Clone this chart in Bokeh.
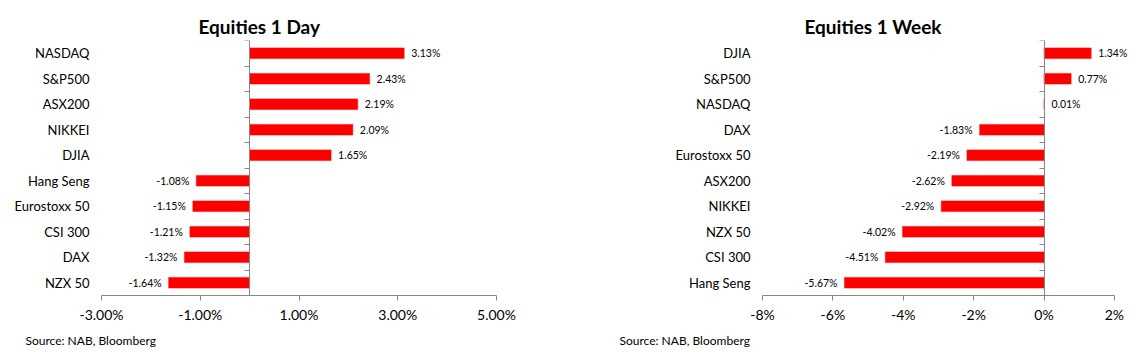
from bokeh.plotting import figure
from bokeh.layouts import row
from bokeh.models import (Range1d, FixedTicker, LinearAxis, PrintfTickFormatter,
                          Title, ColumnDataSource, LabelSet, CustomJSTickFormatter)
from bokeh.embed import file_html
from bokeh.resources import INLINE
from bokeh.core.properties import value

# ---------------- data ----------------
day_names = ["NASDAQ", "S&P500", "ASX200", "NIKKEI", "DJIA",
             "Hang Seng", "Eurostoxx 50", "CSI 300", "DAX", "NZX 50"]
day_values = [3.13, 2.43, 2.19, 2.09, 1.65, -1.08, -1.15, -1.21, -1.32, -1.64]
day_ticks = [-3, -1, 1, 3, 5]

week_names = ["DJIA", "S&P500", "NASDAQ", "DAX", "Eurostoxx 50",
              "ASX200", "NIKKEI", "NZX 50", "CSI 300", "Hang Seng"]
week_values = [1.34, 0.77, 0.01, -1.83, -2.19, -2.62, -2.92, -4.02, -4.51, -5.67]
week_ticks = [-8, -6, -4, -2, 0, 2]

source_text = "Source: NAB, Bloomberg"

FONT = "Lato"
RED = "#FF0000"
GREY = "#868686"


def make_panel(title, names, values, ticks, fmt, x_extra, width,
               b_left, b_right, title_offset, source_offset):
    n = len(names)
    ys = [n - 0.5 - i for i in range(n)]
    labels = [f"{v:.2f}%" for v in values]

    pos = ColumnDataSource(dict(
        y=[y for y, v in zip(ys, values) if v >= 0],
        x=[v for v in values if v >= 0],
        t=[l for l, v in zip(labels, values) if v >= 0]))
    neg = ColumnDataSource(dict(
        y=[y for y, v in zip(ys, values) if v < 0],
        x=[v for v in values if v < 0],
        t=[l for l, v in zip(labels, values) if v < 0]))

    p = figure(width=width, height=352, title=title,
               x_range=Range1d(ticks[0], ticks[-1] + x_extra),
               y_range=Range1d(0, n),
               output_backend="svg", toolbar_location=None,
               min_border_left=b_left, min_border_right=b_right,
               min_border_top=40, min_border_bottom=56)
    p.outline_line_color = None
    p.xgrid.visible = False
    p.ygrid.visible = False
    p.background_fill_color = "white"
    p.border_fill_color = "white"

    p.title.text_font = FONT
    p.title.text_font_size = "19px"
    p.title.text_font_style = "bold"
    p.title.text_color = "black"
    p.title.align = "left"
    p.title.offset = title_offset
    p.title.standoff = 6

    p.hbar(y=ys, left=0, right=values, height=0.42, fill_color=RED,
           line_color=RED, line_width=0.5)

    for src, off, align in ((pos, 7, "left"), (neg, -7, "right")):
        p.add_layout(LabelSet(x="x", y="y", text="t", source=src,
                              x_offset=off, text_align=align,
                              text_baseline="middle",
                              text_font=value(FONT),
                              text_font_size=value("10.5px"),
                              text_color="black"))

    # category labels (left)
    ya = p.yaxis[0]
    ya.ticker = FixedTicker(ticks=ys)
    ya.major_label_overrides = {y: nm for y, nm in zip(ys, names)}
    ya.axis_line_color = None
    ya.major_tick_line_color = None
    ya.major_tick_out = 0
    ya.major_tick_in = 0
    ya.minor_tick_line_color = None
    ya.minor_tick_out = 0
    ya.major_label_standoff = 12
    ya.major_label_text_font = FONT
    ya.major_label_text_font_size = "13px"
    ya.major_label_text_color = "black"

    # zero axis with ticks at category boundaries
    za = LinearAxis(fixed_location=0,
                    ticker=FixedTicker(ticks=list(range(n + 1))),
                    formatter=CustomJSTickFormatter(code="return ''"),
                    axis_line_color=GREY, major_tick_line_color=GREY,
                    major_tick_in=0, major_tick_out=5,
                    minor_tick_line_color=None, minor_tick_out=0,
                    major_label_text_color=None,
                    major_label_standoff=0)
    p.add_layout(za, "left")

    xa = p.xaxis[0]
    xa.bounds = (ticks[0], ticks[-1])
    xa.ticker = FixedTicker(ticks=ticks)
    xa.formatter = PrintfTickFormatter(format=fmt)
    xa.axis_line_color = GREY
    xa.major_tick_line_color = GREY
    xa.major_tick_in = 0
    xa.major_tick_out = 5
    xa.minor_tick_line_color = None
    xa.major_label_standoff = 5
    xa.major_label_text_font = FONT
    xa.major_label_text_font_size = "14px"
    xa.major_label_text_color = "black"

    p.add_layout(Title(text=source_text, align="left", offset=source_offset,
                       text_font=FONT, text_font_size="12px",
                       text_font_style="normal", text_color="black",
                       vertical_align="bottom", standoff=10), "below")
    return p


left = make_panel("Equities 1 Day", day_names, day_values, day_ticks,
                  "%.2f%%", 0, 570, 101, 74, 97, -76)
right = make_panel("Equities 1 Week", week_names, week_values, week_ticks,
                   "%d%%", 0.4, 569, 192, 11, 42, -143)

layout = row(left, right)
open("out.html", "w").write(file_html(layout, INLINE))
